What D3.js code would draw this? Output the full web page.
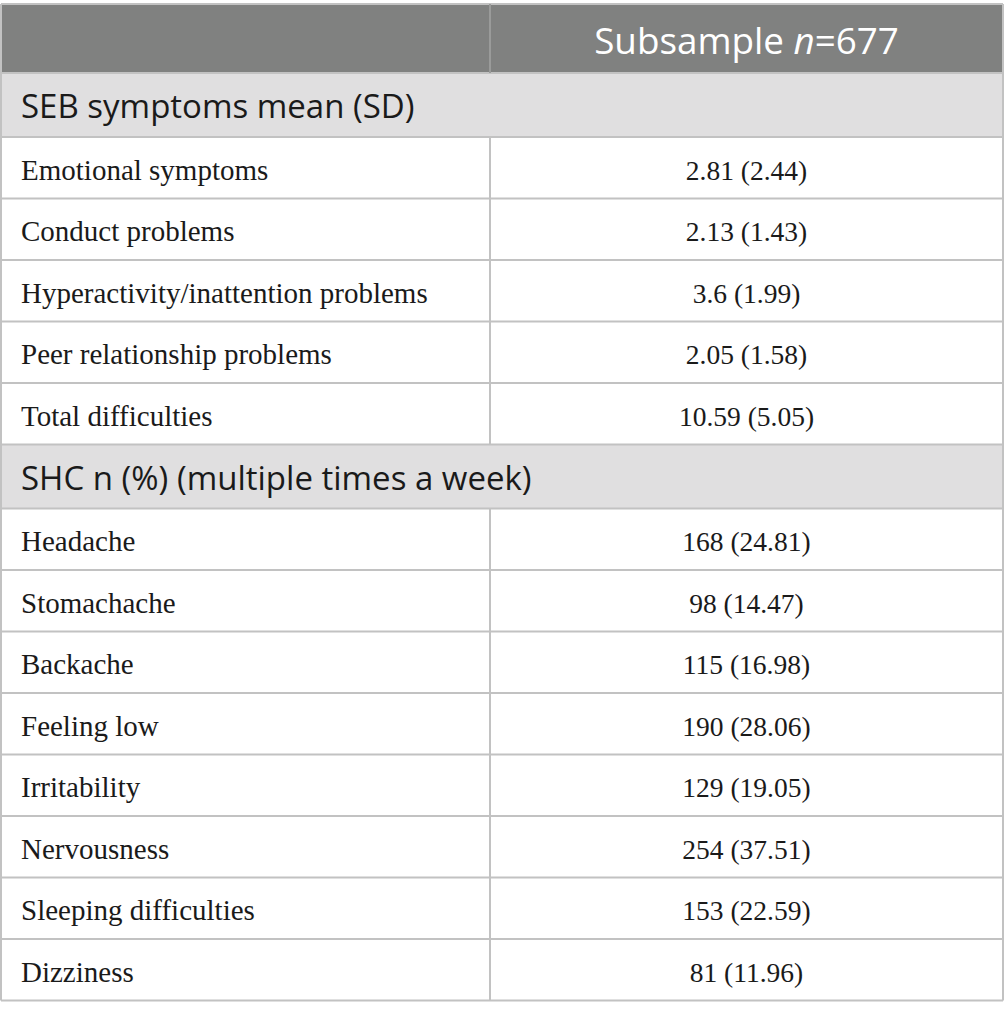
<!DOCTYPE html>
<html>
<head>
<meta charset="utf-8">
<script src="https://cdn.jsdelivr.net/npm/d3@7"></script>
<style>
  body { margin: 0; background: #fff; }
</style>
</head>
<body>
<svg id="tabell" width="1005" height="1016"></svg>
<script>
// data
const headerLabel = "Subsample";
const headerN = 677;

const sebTitle = "SEB symptoms mean (SD)";
const sebRows = ["Emotional symptoms", "Conduct problems", "Hyperactivity/inattention problems", "Peer relationship problems", "Total difficulties"];
const sebValues = ["2.81 (2.44)", "2.13 (1.43)", "3.6 (1.99)", "2.05 (1.58)", "10.59 (5.05)"];

const shcTitle = "SHC n (%) (multiple times a week)";
const shcRows = ["Headache", "Stomachache", "Backache", "Feeling low", "Irritability", "Nervousness", "Sleeping difficulties", "Dizziness"];
const shcValues = ["168 (24.81)", "98 (14.47)", "115 (16.98)", "190 (28.06)", "129 (19.05)", "254 (37.51)", "153 (22.59)", "81 (11.96)"];

// layout
const venstre = 1, hoyre = 1003, split = 490, topp = 4;
const headH = 69, secH = 64, rowH = 61.5;
const lineCol = "#c2c2c2";
const serif = "'Liberation Serif', 'DejaVu Serif', serif";
const sans = "'Open Sans', 'Noto Sans', sans-serif";

// build the row list
const rows = [{type: "head"}];
rows.push({type: "sec", label: sebTitle});
sebRows.forEach((d, i) => rows.push({type: "data", label: d, value: sebValues[i]}));
rows.push({type: "sec", label: shcTitle});
shcRows.forEach((d, i) => rows.push({type: "data", label: d, value: shcValues[i]}));

let y = topp;
rows.forEach(r => {
    r.h = r.type == "head" ? headH : r.type == "sec" ? secH : rowH;
    r.y = y;
    y += r.h;
});
const bunn = y;

const svg = d3.select("#tabell");

// row backgrounds
svg.selectAll("rect.bg").data(rows).join("rect")
    .attr("class", "bg")
    .attr("x", venstre).attr("y", d => d.y)
    .attr("width", hoyre - venstre).attr("height", d => d.h)
    .attr("fill", d => d.type == "head" ? "#808180" : d.type == "sec" ? "#e0dfe0" : "#fff");

// horizontal lines
svg.selectAll("line.h").data(rows.map(d => d.y).concat([bunn])).join("line")
    .attr("class", "h")
    .attr("x1", venstre).attr("x2", hoyre)
    .attr("y1", d => d).attr("y2", d => d)
    .attr("stroke", lineCol).attr("stroke-width", 2);

// vertical lines: outer edges
svg.selectAll("line.v").data([venstre, hoyre]).join("line")
    .attr("class", "v")
    .attr("x1", d => d).attr("x2", d => d)
    .attr("y1", topp).attr("y2", bunn)
    .attr("stroke", lineCol).attr("stroke-width", 2);

// split line, not through section rows
svg.selectAll("line.split").data(rows.filter(d => d.type != "sec")).join("line")
    .attr("class", "split")
    .attr("x1", split).attr("x2", split)
    .attr("y1", d => d.y).attr("y2", d => d.y + d.h)
    .attr("stroke", d => d.type == "head" ? "#9a9b9a" : lineCol).attr("stroke-width", 2);

// header text
const head = rows[0];
const ht = svg.append("text")
    .attr("x", (split + hoyre) / 2).attr("y", head.y + head.h / 2 + 15)
    .attr("text-anchor", "middle")
    .attr("fill", "#fff").attr("font-family", sans).attr("font-size", 36.8);
ht.append("tspan").text(headerLabel + " ");
ht.append("tspan").attr("font-style", "italic").text("n");
ht.append("tspan").text("=" + headerN);

// section titles
svg.selectAll("text.sec").data(rows.filter(d => d.type == "sec")).join("text")
    .attr("class", "sec")
    .attr("x", 21).attr("y", d => d.y + d.h / 2 + 13)
    .attr("fill", "#1a1a1a").attr("font-family", sans).attr("font-size", 33)
    .text(d => d.label);

// data labels and values
const dataRows = rows.filter(d => d.type == "data");
svg.selectAll("text.lab").data(dataRows).join("text")
    .attr("class", "lab")
    .attr("x", 21).attr("y", d => d.y + d.h / 2 + 12)
    .attr("fill", "#1a1a1a").attr("font-family", serif).attr("font-size", 29)
    .text(d => d.label);

svg.selectAll("text.val").data(dataRows).join("text")
    .attr("class", "val")
    .attr("x", (split + hoyre) / 2).attr("y", d => d.y + d.h / 2 + 12)
    .attr("text-anchor", "middle")
    .attr("fill", "#1a1a1a").attr("font-family", serif).attr("font-size", 27.5)
    .text(d => d.value);
</script>
</body>
</html>
